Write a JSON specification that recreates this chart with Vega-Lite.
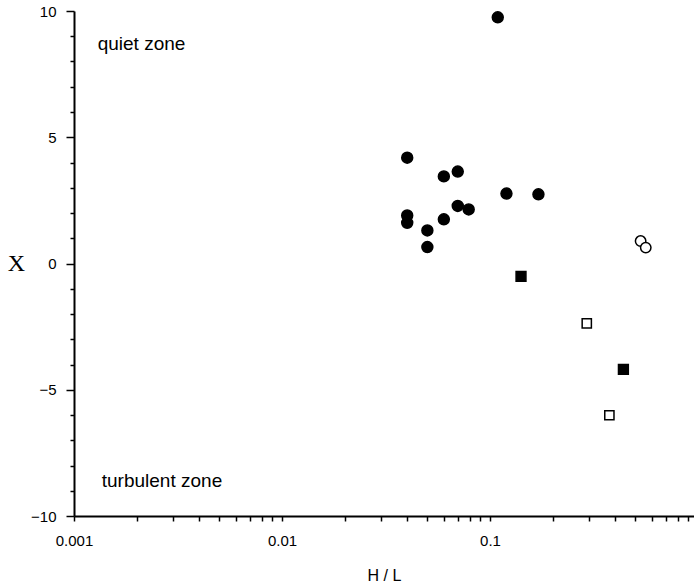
{
  "$schema": "https://vega.github.io/schema/vega-lite/v6.json",
  "autosize": {"type": "none"},
  "width": 620,
  "height": 505,
  "padding": {"left": 74, "top": 11, "right": 0, "bottom": 69},
  "background": "white",
  "config": {
    "view": {"stroke": null},
    "font": "Liberation Sans",
    "axis": {
      "domainColor": "black",
      "domainWidth": 2,
      "tickColor": "black",
      "tickWidth": 1.5,
      "labelColor": "black",
      "labelFont": "Liberation Sans",
      "labelFontSize": 15,
      "titleColor": "black",
      "grid": false
    }
  },
  "datasets": {
    "points": [
      {"HL": 0.109, "X": 9.75, "series": "filled circle"},
      {"HL": 0.04, "X": 4.19, "series": "filled circle"},
      {"HL": 0.06, "X": 3.45, "series": "filled circle"},
      {"HL": 0.07, "X": 3.64, "series": "filled circle"},
      {"HL": 0.12, "X": 2.77, "series": "filled circle"},
      {"HL": 0.171, "X": 2.74, "series": "filled circle"},
      {"HL": 0.07, "X": 2.28, "series": "filled circle"},
      {"HL": 0.079, "X": 2.14, "series": "filled circle"},
      {"HL": 0.04, "X": 1.9, "series": "filled circle"},
      {"HL": 0.04, "X": 1.61, "series": "filled circle"},
      {"HL": 0.06, "X": 1.75, "series": "filled circle"},
      {"HL": 0.05, "X": 1.31, "series": "filled circle"},
      {"HL": 0.05, "X": 0.65, "series": "filled circle"},
      {"HL": 0.53, "X": 0.89, "series": "open circle"},
      {"HL": 0.561, "X": 0.63, "series": "open circle"},
      {"HL": 0.141, "X": -0.51, "series": "filled square"},
      {"HL": 0.438, "X": -4.19, "series": "filled square"},
      {"HL": 0.292, "X": -2.37, "series": "open square"},
      {"HL": 0.375, "X": -6.01, "series": "open square"}
    ],
    "labels": [
      {"HL": 0.0013, "X": 8.44, "text": "quiet zone"},
      {"HL": 0.00136, "X": -8.84, "text": "turbulent zone"}
    ]
  },
  "resolve": {"axis": {"y": "independent"}},
  "layer": [
    {
      "mark": {"type": "rule", "color": "black", "strokeWidth": 2},
      "encoding": {
        "y": {
          "datum": 10,
          "type": "quantitative",
          "scale": {"domain": [-10, 10], "nice": false},
          "axis": {
            "orient": "left",
            "title": null,
            "values": [-9, -8, -7, -6, -4, -3, -2, -1, 1, 2, 3, 4, 6, 7, 8, 9],
            "labels": false,
            "domain": false,
            "tickSize": 4
          }
        }
      }
    },
    {
      "mark": {"type": "rule", "color": "black", "strokeWidth": 1.5},
      "encoding": {"y": {"datum": 0, "type": "quantitative", "axis": null}}
    },
    {
      "data": {"name": "labels"},
      "mark": {"type": "text", "align": "left", "baseline": "alphabetic", "font": "Liberation Sans", "fontSize": 19, "color": "black"},
      "encoding": {
        "x": {"field": "HL", "type": "quantitative"},
        "y": {"field": "X", "type": "quantitative", "axis": null},
        "text": {"field": "text"}
      }
    },
    {
      "data": {"name": "points"},
      "mark": {"type": "point", "filled": false, "stroke": "black", "strokeWidth": 1.5, "opacity": 1},
      "encoding": {
        "x": {
          "field": "HL",
          "type": "quantitative",
          "scale": {"type": "log", "domain": [0.001, 0.957], "nice": false},
          "axis": {
            "title": "H / L",
            "titleFont": "Liberation Sans",
            "titleFontSize": 16,
            "titleFontWeight": "normal",
            "titlePadding": 19,
            "values": [0.001, 0.002, 0.003, 0.004, 0.005, 0.006, 0.007, 0.008, 0.009, 0.01, 0.02, 0.03, 0.04, 0.05, 0.06, 0.07, 0.08, 0.09, 0.1, 0.2, 0.3, 0.4, 0.5, 0.6, 0.7, 0.8, 0.9],
            "format": "~g",
            "labelExpr": "datum.value == 0.001 || datum.value == 0.01 || datum.value == 0.1 ? datum.label : ''",
            "labelOverlap": false,
            "labelFlush": false,
            "tickSize": 5,
            "labelPadding": 12
          }
        },
        "y": {
          "field": "X",
          "type": "quantitative",
          "axis": {
            "orient": "left",
            "title": "X",
            "titleFont": "Liberation Serif",
            "titleFontSize": 24,
            "titleFontWeight": "normal",
            "titleAngle": 0,
            "titleAlign": "center",
            "titleBaseline": "middle",
            "titleX": -58,
            "titleY": 252,
            "values": [-10, -5, 0, 5, 10],
            "format": "d",
            "labelOverlap": false,
            "labelFlush": false,
            "tickSize": 8,
            "labelPadding": 10
          }
        },
        "shape": {
          "field": "series",
          "type": "nominal",
          "scale": {"domain": ["filled circle", "open circle", "filled square", "open square"], "range": ["circle", "circle", "square", "square"]},
          "legend": null
        },
        "fill": {
          "field": "series",
          "type": "nominal",
          "scale": {"domain": ["filled circle", "open circle", "filled square", "open square"], "range": ["black", "white", "black", "white"]},
          "legend": null
        },
        "size": {
          "field": "series",
          "type": "nominal",
          "scale": {"domain": ["filled circle", "open circle", "filled square", "open square"], "range": [120, 85, 115, 90]},
          "legend": null
        }
      }
    }
  ]
}
